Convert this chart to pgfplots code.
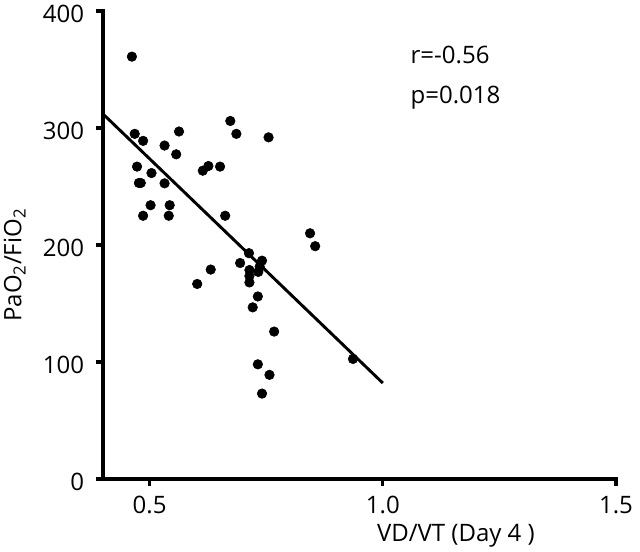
\documentclass[border=0pt]{standalone}
\usepackage{pgfplots}
\pgfplotsset{compat=1.18}
\usepackage{fontspec}
\setmainfont{Open Sans}
\begin{document}
\fontsize{18}{21}\selectfont
\begin{tikzpicture}
\useasboundingbox (-77.25pt,-54.75pt) rectangle (402.75pt,359.25pt);
\begin{axis}[
  at={(0,0)}, anchor=south west,
  scale only axis,
  width=384.75pt, height=351pt,
  xmin=0.4, xmax=1.5, ymin=0, ymax=400,
  axis x line*=bottom, axis y line*=left,
  axis line style={draw=none},
  xtick={0.5,1.0,1.5}, xticklabels={0.5,1.0,1.5},
  ytick={0,100,200,300,400},
  tick align=outside,
  major tick length=5pt,
  every tick/.append style={line width=2.5pt, black},
  major tick style={line width=2.5pt, black},
  /pgf/number format/assume math mode=true,
  ticklabel style={font=\fontsize{18}{21}\selectfont},
  xticklabel style={yshift=-2pt},
  yticklabel style={xshift=-3pt, yshift=-2pt},
  xlabel={VD/VT (Day 4 )},
  ylabel={PaO\textsubscript{2}/FiO\textsubscript{2}},
  label style={font=\fontsize{18}{21}\selectfont},
  xlabel style={at={(axis description cs:0.688,0)}, anchor=base, yshift=-47pt},
  ylabel style={at={(axis description cs:-0.172,0.457)}, anchor=center},
  clip=false,
]
\addplot[only marks, mark=*, mark size=3.6pt, mark options={fill=black, draw=black, line width=0.4pt}] coordinates {
(0.462,361) (0.468,295) (0.486,289) (0.563,297) (0.532,285) (0.557,277.5)
(0.673,306) (0.686,295) (0.755,292) (0.473,267) (0.504,261.5)
(0.477,253) (0.481,253) (0.532,252.7)
(0.614,263.5) (0.626,267.5) (0.651,267)
(0.502,234) (0.543,234) (0.486,225) (0.541,225) (0.662,225)
(0.844,210) (0.855,199)
(0.713,193) (0.741,186.6) (0.694,184.6) (0.736,181.5) (0.631,179)
(0.714,178.6) (0.733,177) (0.714,173.5) (0.714,168) (0.602,166.7)
(0.732,156) (0.721,146.7) (0.767,126) (0.936,102.6)
(0.732,98) (0.757,89) (0.741,73)
};
\addplot[line width=2.2pt, black, no marks] coordinates {(0.4,312) (1.0,82)};
\draw[line width=3.6pt, black, line cap=rect] (rel axis cs:0,1) -- (rel axis cs:0,0) -- (rel axis cs:1,0);
\node[anchor=west] at (axis cs:1.042,362) {r=-0.56};
\node[anchor=west] at (axis cs:1.042,325.6) {p=0.018};
\end{axis}
\end{tikzpicture}
\end{document}
